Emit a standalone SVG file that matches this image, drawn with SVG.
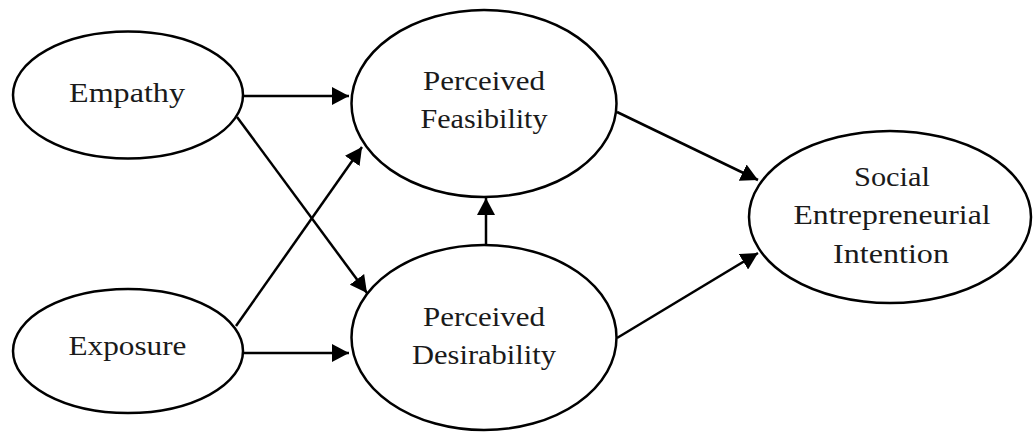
<svg xmlns="http://www.w3.org/2000/svg" width="1033" height="432" viewBox="0 0 1033 432">
<style>
.node ellipse{fill:#fff;stroke:#000;stroke-width:2.5}
.node text{font-family:"Liberation Serif","Times New Roman",serif;font-size:27px;fill:#1a1a1a;text-anchor:middle}
.edges line{stroke:#000;stroke-width:2.5;marker-end:url(#ah)}
</style>
<defs>
<marker id="ah" markerUnits="userSpaceOnUse" markerWidth="18" markerHeight="18" refX="17" refY="9" orient="auto" viewBox="0 0 18 18">
<path d="M0,0 L17,9 L0,18 Z" fill="#000"/>
</marker>
</defs>
<rect width="1033" height="432" fill="#fff"/>
<g id="empathy" class="node">
<ellipse cx="128" cy="95" rx="115" ry="63.5"/>
<text x="127" y="102" textLength="116" lengthAdjust="spacingAndGlyphs">Empathy</text>
</g>
<g id="exposure" class="node">
<ellipse cx="128" cy="351" rx="115" ry="62"/>
<text x="127.5" y="355" textLength="118" lengthAdjust="spacingAndGlyphs">Exposure</text>
</g>
<g id="feasibility" class="node">
<ellipse cx="484" cy="103.5" rx="132.5" ry="93.5"/>
<text x="484" y="90" textLength="122" lengthAdjust="spacingAndGlyphs">Perceived</text>
<text x="484" y="128" textLength="127" lengthAdjust="spacingAndGlyphs">Feasibility</text>
</g>
<g id="desirability" class="node">
<ellipse cx="484" cy="337.5" rx="132.5" ry="92.5"/>
<text x="484" y="326" textLength="122" lengthAdjust="spacingAndGlyphs">Perceived</text>
<text x="484" y="364" textLength="144" lengthAdjust="spacingAndGlyphs">Desirability</text>
</g>
<g id="intention" class="node">
<ellipse cx="890" cy="217" rx="141" ry="86"/>
<text x="892" y="186" textLength="76" lengthAdjust="spacingAndGlyphs">Social</text>
<text x="892" y="224" textLength="197" lengthAdjust="spacingAndGlyphs">Entrepreneurial</text>
<text x="891" y="263" textLength="116" lengthAdjust="spacingAndGlyphs">Intention</text>
</g>
<g id="connectors" class="edges">
<line x1="243" y1="96" x2="349" y2="96"/>
<line x1="237" y1="117" x2="367" y2="293"/>
<line x1="236" y1="326" x2="362" y2="147"/>
<line x1="243" y1="353" x2="349" y2="353"/>
<line x1="486" y1="245" x2="486" y2="198"/>
<line x1="617" y1="112" x2="758" y2="180"/>
<line x1="617" y1="338" x2="758" y2="253"/>
</g>
</svg>
